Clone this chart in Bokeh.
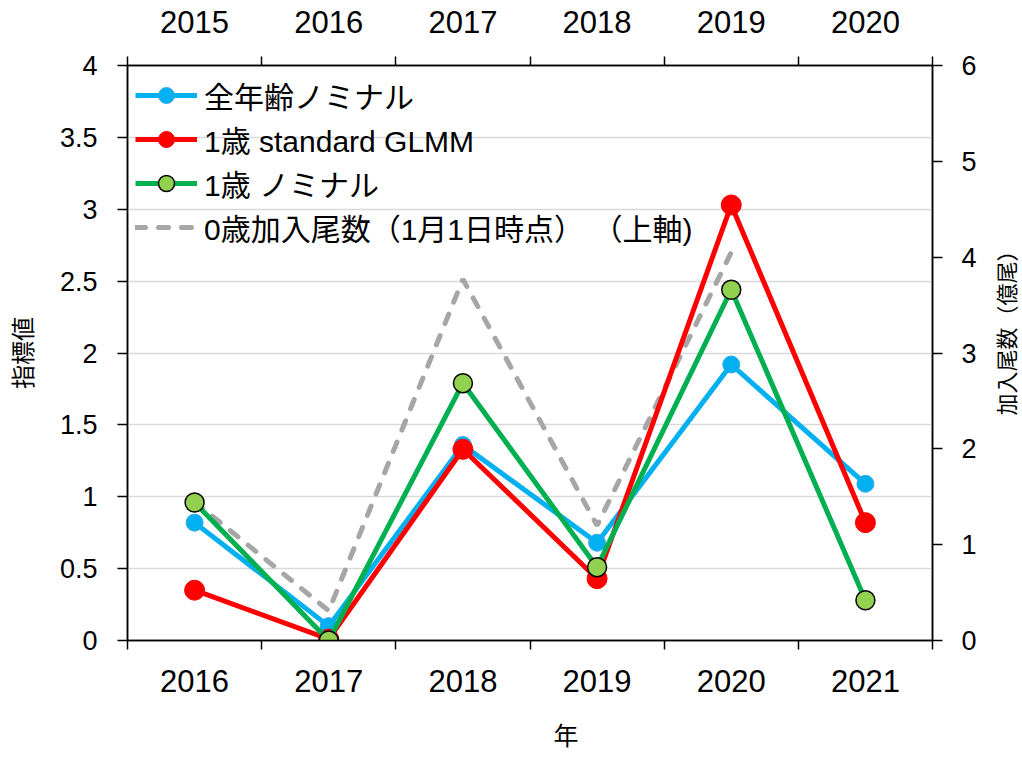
import math
from bokeh.plotting import figure
from bokeh.layouts import row
from bokeh.models import (LinearAxis, Range1d, FixedTicker, NumeralTickFormatter,
                          Legend, LegendItem, Title)
from bokeh.core.properties import value
from bokeh.embed import file_html
from bokeh.resources import INLINE

# ---- data ----
years_bottom = ["2016", "2017", "2018", "2019", "2020", "2021"]
years_top = ["2015", "2016", "2017", "2018", "2019", "2020"]
all_age_nominal = [0.82, 0.10, 1.36, 0.68, 1.92, 1.09]
age1_glmm = [0.35, 0.01, 1.33, 0.43, 3.03, 0.82]
age1_nominal = [0.96, 0.00, 1.79, 0.51, 2.44, 0.28]
recruit_years_top = ["2015", "2016", "2017", "2018", "2019"]
recruit_age0 = [1.45, 0.31, 3.77, 1.20, 4.05]

series_labels = ["全年齢ノミナル", "1歳 standard GLMM", "1歳 ノミナル",
                 "0歳加入尾数（1月1日時点） （上軸)"]
left_title = "指標値"
right_title = "加入尾数（億尾）"
bottom_title = "年"

NUM_FONT = "Liberation Sans"
CJK_FONT = "Noto Sans CJK JP"
MIX_FONT = "'Liberation Sans', 'Noto Sans CJK JP'"

FW, FH = 805, 575
BL, BR, BT, BB = 127, 46, 65, 120

# positions of categories on a numeric scale (category i spans [i, i+1])
xb = [years_bottom.index(y) + 0.5 for y in years_bottom]
xt = [years_top.index(y) + 0.5 for y in recruit_years_top]

p = figure(frame_width=FW, frame_height=FH,
           min_border_left=BL, min_border_right=BR,
           min_border_top=BT, min_border_bottom=BB,
           x_range=Range1d(0, len(years_bottom)), y_range=Range1d(0, 4),
           output_backend="svg", toolbar_location=None,
           x_axis_location=None, y_axis_location=None)
p.extra_y_ranges = {"right": Range1d(0, 6)}
p.background_fill_color = "white"
p.border_fill_color = "white"
p.outline_line_color = "black"
p.outline_line_width = 1.5

# ---- axes ----
def style_axis(ax, size):
    ax.major_label_text_font = NUM_FONT
    ax.major_label_text_font_size = size
    ax.major_label_text_color = "black"
    ax.axis_line_color = "black"
    ax.axis_line_width = 1.5
    ax.major_tick_line_color = "black"
    ax.major_tick_line_width = 1.5
    ax.minor_tick_line_color = "black"
    ax.minor_tick_line_width = 1.5
    ax.axis_label_text_font = CJK_FONT
    ax.axis_label_text_font_size = "24px"
    ax.axis_label_text_font_style = "normal"
    ax.axis_label_text_color = "black"

bottom = LinearAxis(ticker=FixedTicker(ticks=xb, minor_ticks=list(range(len(years_bottom) + 1))),
                    major_label_overrides={x: y for x, y in zip(xb, years_bottom)})
style_axis(bottom, "31px")
bottom.major_tick_in = 0
bottom.major_tick_out = 0
bottom.minor_tick_in = 0
bottom.minor_tick_out = 9
bottom.major_label_standoff = 20
p.add_layout(bottom, "below")

# bottom title, shifted right like the reference
p.add_layout(Title(text=bottom_title, align="left", offset=426, standoff=38,
                   text_font=CJK_FONT, text_font_size="25px",
                   text_font_style="normal", text_color="black"), "below")

xt_all = [i + 0.5 for i in range(len(years_top))]
top = LinearAxis(ticker=FixedTicker(ticks=xt_all, minor_ticks=list(range(len(years_top) + 1))),
                 major_label_overrides={x: y for x, y in zip(xt_all, years_top)})
style_axis(top, "31px")
top.major_tick_in = 0
top.major_tick_out = 0
top.minor_tick_in = 0
top.minor_tick_out = 9
top.major_label_standoff = 24
p.add_layout(top, "above")

left = LinearAxis(ticker=FixedTicker(ticks=[i * 0.5 for i in range(9)]),
                  formatter=NumeralTickFormatter(format="0.[0]"))
style_axis(left, "27px")
left.major_tick_in = 0
left.major_tick_out = 10
left.minor_tick_out = 0
left.minor_tick_in = 0
left.major_label_standoff = 20
left.axis_label = left_title
left.axis_label_standoff = 18
p.add_layout(left, "left")

right = LinearAxis(y_range_name="right", ticker=FixedTicker(ticks=list(range(7))),
                   formatter=NumeralTickFormatter(format="0"))
style_axis(right, "27px")
right.major_tick_in = 0
right.major_tick_out = 10
right.minor_tick_out = 0
right.minor_tick_in = 0
right.major_label_standoff = 19
p.add_layout(right, "right")

# grid
p.xgrid.visible = False
p.ygrid.ticker = FixedTicker(ticks=[i * 0.5 for i in range(1, 9)])
p.ygrid.grid_line_color = "#d9d9d9"
p.ygrid.grid_line_width = 1.5

# ---- series ----
gray_line = p.line(xt, recruit_age0, y_range_name="right", color="#a6a6a6",
                   line_width=5, line_dash="10 13", line_cap="round")

blue_line = p.line(xb, all_age_nominal, color="#00b0f0", line_width=5)
blue_pts = p.scatter(xb, all_age_nominal, size=17, fill_color="#00b0f0",
                     line_color="#3aa8e8", line_width=1)

red_line = p.line(xb, age1_glmm, color="#ff0000", line_width=5)
red_pts = p.scatter(xb, age1_glmm, size=20, fill_color="#ff0000",
                    line_color="#ff0000", line_width=1)

green_line = p.line(xb, age1_nominal, color="#00b050", line_width=5)
green_pts = p.scatter(xb, age1_nominal, size=19, fill_color="#92d050",
                      line_color="black", line_width=1.5)

legend = Legend(items=[
    LegendItem(label=series_labels[0], renderers=[blue_line, blue_pts]),
    LegendItem(label=series_labels[1], renderers=[red_line, red_pts]),
    LegendItem(label=series_labels[2], renderers=[green_line, green_pts]),
    LegendItem(label=series_labels[3], renderers=[gray_line]),
], location="top_left")
legend.label_text_font = MIX_FONT
legend.label_text_font_size = "30px"
legend.label_text_color = "black"
legend.glyph_width = 62
legend.glyph_height = 40
legend.label_height = 36
legend.label_standoff = 7
legend.spacing = 0
legend.padding = 2
legend.margin = 8
legend.border_line_color = None
legend.background_fill_alpha = 0
p.add_layout(legend)

# ---- right-hand axis title (reads bottom-to-top), in a narrow side panel ----
SW, SH = 44, BT + FH + BB
side = figure(width=SW, height=SH, min_border=0,
              x_range=Range1d(0, SW), y_range=Range1d(0, SH),
              output_backend="svg", toolbar_location=None,
              x_axis_location=None, y_axis_location=None)
side.grid.visible = False
side.outline_line_color = None
side.background_fill_color = "white"
side.border_fill_color = "white"
side.text(x=[25], y=[SH - (BT + FH / 2)], text=[right_title], angle=math.pi / 2,
          text_font=value(CJK_FONT), text_font_size="22px", text_color="black",
          text_align="center", text_baseline="middle")

layout = row(p, side, spacing=0)

open("out.html", "w").write(file_html(layout, INLINE))
